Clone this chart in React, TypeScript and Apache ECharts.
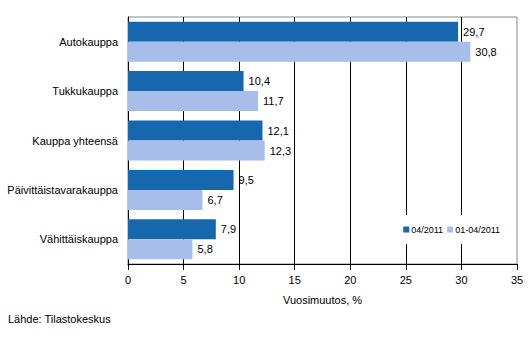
import React, { useEffect, useRef } from "react";
import * as echarts from "echarts";

const categories = ["Autokauppa", "Tukkukauppa", "Kauppa yhteensä", "Päivittäistavarakauppa", "Vähittäiskauppa"];
const seriesNames = ["04/2011", "01-04/2011"];
const values04 = [29.7, 10.4, 12.1, 9.5, 7.9];
const values0104 = [30.8, 11.7, 12.3, 6.7, 5.8];
const axisName = "Vuosimuutos, %";
const sourceText = "Lähde: Tilastokeskus";
const colors = ["#1767AF", "#A8BEEA"];

const FONT = "Liberation Sans, Arial, sans-serif";

export default function App() {
  const ref = useRef<HTMLDivElement>(null);
  useEffect(() => {
    if (!ref.current) return;
    const chart = echarts.init(ref.current, null, { renderer: "svg" });
    const label = {
      show: true,
      position: "right",
      distance: 5,
      color: "#000",
      fontSize: 11,
      fontFamily: FONT,
      formatter: (p: any) => String(p.value).replace(".", ","),
    };
    chart.setOption({
      animation: false,
      textStyle: { fontFamily: FONT },
      grid: {
        left: 128,
        right: 15,
        top: 17,
        bottom: 94,
        show: true,
        borderColor: "#888",
        borderWidth: 1,
      },
      legend: {
        right: 24,
        top: 215,
        padding: [10, 8],
        backgroundColor: "#fff",
        itemWidth: 6,
        itemHeight: 6,
        itemGap: 4,
        icon: "rect",
        textStyle: { fontSize: 9, color: "#000", padding: [0, 0, 0, -3] },
        data: seriesNames,
      },
      xAxis: {
        type: "value",
        min: 0,
        max: 35,
        interval: 5,
        name: axisName,
        nameLocation: "middle",
        nameGap: 30,
        nameTextStyle: { fontSize: 11, color: "#000" },
        axisLine: { show: true, lineStyle: { color: "#000" } },
        axisTick: { show: true, length: 6, lineStyle: { color: "#000" } },
        axisLabel: { fontSize: 11, color: "#000", margin: 10 },
        splitLine: { show: true, showMinLine: false, showMaxLine: false, lineStyle: { color: "#000", width: 1 } },
      },
      yAxis: {
        type: "category",
        inverse: true,
        data: categories,
        axisLine: { show: true, lineStyle: { color: "#000" } },
        axisTick: { show: false },
        axisLabel: { fontSize: 11, color: "#000", margin: 10 },
      },
      series: [
        {
          name: seriesNames[0],
          type: "bar",
          data: values04,
          barWidth: 20,
          barGap: "0%",
          itemStyle: { color: colors[0] },
          label,
        },
        {
          name: seriesNames[1],
          type: "bar",
          data: values0104,
          barWidth: 20,
          barGap: "0%",
          itemStyle: { color: colors[1] },
          label,
        },
      ],
      graphic: [
        {
          type: "text",
          left: 8,
          top: 313,
          style: { text: sourceText, fontSize: 11, fill: "#000", fontFamily: FONT },
        },
      ],
    });
    return () => chart.dispose();
  }, []);
  return <div ref={ref} style={{ width: 532, height: 358, position: "absolute", left: 0, top: 0, background: "#fff" }} />;
}
